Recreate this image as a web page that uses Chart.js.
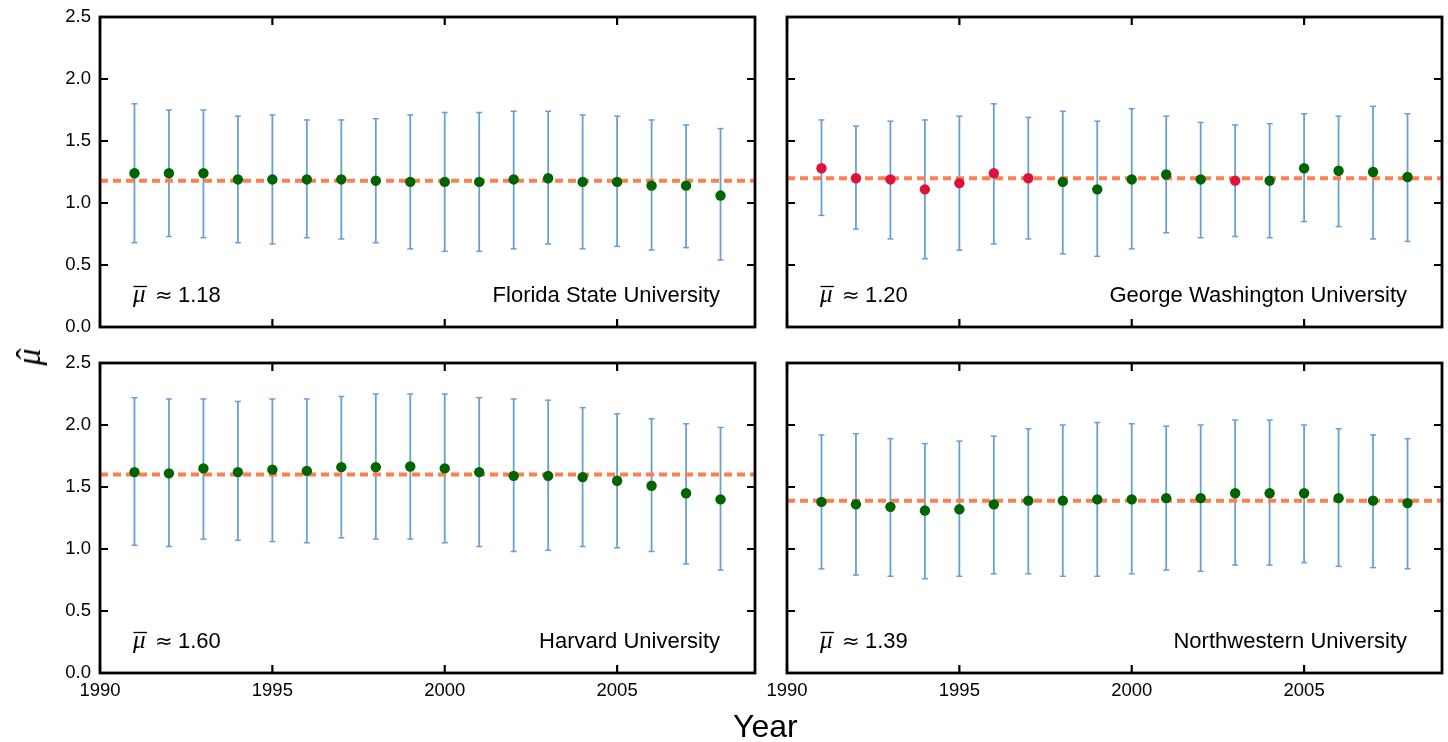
<!DOCTYPE html>
<html>
<head>
<meta charset="utf-8">
<script src="https://cdn.jsdelivr.net/npm/chart.js@4.4.1/dist/chart.umd.min.js"></script>
<style>
  html, body { margin:0; padding:0; background:#fff; width:1448px; height:742px; overflow:hidden; }
  canvas { position:absolute; left:0; top:0; }
  #xlabel { position:absolute; left:733px; top:710px; font-family:"Liberation Sans", Arial, sans-serif; font-size:32px; line-height:32px; color:#000; white-space:nowrap; }
  #ylabel { position:absolute; left:29px; top:357px; transform:translate(-50%,-50%) rotate(-90deg); font-family:"Liberation Serif", serif; font-style:italic; font-size:34px; line-height:34px; color:#000; white-space:nowrap; }
  #ylabel .mu { position:relative; display:inline-block; }
  #ylabel .hat { position:absolute; left:3px; top:0; width:100%; text-align:center; font-style:normal; }
</style>
</head>
<body>
<canvas id="c0" width="1448" height="742"></canvas>
<canvas id="c1" width="1448" height="742"></canvas>
<canvas id="c2" width="1448" height="742"></canvas>
<canvas id="c3" width="1448" height="742"></canvas>
<div id="xlabel">Year</div>
<div id="ylabel"><span class="mu">μ<span class="hat">ˆ</span></span></div>
<script>
// ---------------- data ----------------
const years = [1991,1992,1993,1994,1995,1996,1997,1998,1999,2000,2001,2002,2003,2004,2005,2006,2007,2008];
const xTicks = [1990, 1995, 2000, 2005];
const yTicks = [0.0, 0.5, 1.0, 1.5, 2.0, 2.5];
const xMin = 1990, xMax = 2009;
const yMin = 0, yMax = 2.5;

const universities = ['Florida State University', 'George Washington University', 'Harvard University', 'Northwestern University'];
const meanValues = [1.18, 1.20, 1.60, 1.39];

const fsuMu   = [1.24,1.24,1.24,1.19,1.19,1.19,1.19,1.18,1.17,1.17,1.17,1.19,1.20,1.17,1.17,1.14,1.14,1.06];
const fsuLow  = [0.68,0.73,0.72,0.68,0.67,0.72,0.71,0.68,0.63,0.61,0.61,0.63,0.67,0.63,0.65,0.62,0.64,0.54];
const fsuHigh = [1.80,1.75,1.75,1.70,1.71,1.67,1.67,1.68,1.71,1.73,1.73,1.74,1.74,1.71,1.70,1.67,1.63,1.60];
const fsuFlag = [0,0,0,0,0,0,0,0,0,0,0,0,0,0,0,0,0,0];

const gwuMu   = [1.28,1.20,1.19,1.11,1.16,1.24,1.20,1.17,1.11,1.19,1.23,1.19,1.18,1.18,1.28,1.26,1.25,1.21];
const gwuLow  = [0.90,0.79,0.71,0.55,0.62,0.67,0.71,0.59,0.57,0.63,0.76,0.72,0.73,0.72,0.85,0.81,0.71,0.69];
const gwuHigh = [1.67,1.62,1.66,1.67,1.70,1.80,1.69,1.74,1.66,1.76,1.70,1.65,1.63,1.64,1.72,1.70,1.78,1.72];
const gwuFlag = [1,1,1,1,1,1,1,0,0,0,0,0,1,0,0,0,0,0];

const harMu   = [1.62,1.61,1.65,1.62,1.64,1.63,1.66,1.66,1.665,1.65,1.62,1.59,1.59,1.58,1.55,1.51,1.45,1.40];
const harLow  = [1.03,1.02,1.08,1.07,1.06,1.05,1.09,1.08,1.08,1.05,1.02,0.98,0.99,1.02,1.01,0.98,0.88,0.83];
const harHigh = [2.22,2.21,2.21,2.19,2.21,2.21,2.23,2.25,2.25,2.25,2.22,2.21,2.20,2.14,2.09,2.05,2.01,1.98];
const harFlag = [0,0,0,0,0,0,0,0,0,0,0,0,0,0,0,0,0,0];

const nwuMu   = [1.38,1.36,1.34,1.31,1.32,1.36,1.39,1.39,1.40,1.40,1.41,1.41,1.45,1.45,1.45,1.41,1.39,1.37];
const nwuLow  = [0.84,0.79,0.78,0.76,0.78,0.80,0.80,0.78,0.78,0.80,0.83,0.82,0.87,0.87,0.89,0.86,0.85,0.84];
const nwuHigh = [1.92,1.93,1.89,1.85,1.87,1.91,1.97,2.00,2.02,2.01,1.99,2.00,2.04,2.04,2.00,1.97,1.92,1.89];
const nwuFlag = [0,0,0,0,0,0,0,0,0,0,0,0,0,0,0,0,0,0];

// ---------------- styling / layout ----------------
const SANS = '"Liberation Sans", Arial, Helvetica, sans-serif';
const GREEN = '#006400';
const RED = '#dc143c';
const ERR = '#6a9fd2';
const MEANC = '#ff7f50';

Chart.defaults.font.family = SANS;
Chart.defaults.color = '#000';

const panels = [
  { canvas:'c0', mu:fsuMu, low:fsuLow, high:fsuHigh, flag:fsuFlag, idx:0, area:{l:100,t:17,r:755,b:327},  showX:false, showY:true  },
  { canvas:'c1', mu:gwuMu, low:gwuLow, high:gwuHigh, flag:gwuFlag, idx:1, area:{l:787,t:17,r:1442,b:327}, showX:false, showY:false },
  { canvas:'c2', mu:harMu, low:harLow, high:harHigh, flag:harFlag, idx:2, area:{l:100,t:363,r:755,b:673}, showX:true,  showY:true  },
  { canvas:'c3', mu:nwuMu, low:nwuLow, high:nwuHigh, flag:nwuFlag, idx:3, area:{l:787,t:363,r:1442,b:673}, showX:true,  showY:false }
];

const frameTicksPlugin = {
  id: 'frameTicks',
  afterDraw(chart) {
    const { ctx, chartArea: a, scales } = chart;
    const xs = scales.x, ys = scales.y;
    ctx.save();
    ctx.strokeStyle = '#000';
    ctx.lineWidth = 2.2;
    const L = 8;
    ctx.beginPath();
    xTicks.forEach(v => {
      const px = xs.getPixelForValue(v);
      ctx.moveTo(px, a.bottom); ctx.lineTo(px, a.bottom - L);
      ctx.moveTo(px, a.top);    ctx.lineTo(px, a.top + L);
    });
    yTicks.forEach(v => {
      const py = ys.getPixelForValue(v);
      ctx.moveTo(a.left, py);  ctx.lineTo(a.left + L, py);
      ctx.moveTo(a.right, py); ctx.lineTo(a.right - L, py);
    });
    ctx.stroke();
    ctx.lineWidth = 2.8;
    ctx.strokeRect(a.left, a.top, a.right - a.left, a.bottom - a.top);
    ctx.restore();
  }
};

const panelTextPlugin = {
  id: 'panelText',
  afterDraw(chart, args, opts) {
    const { ctx, chartArea: a } = chart;
    const base = a.bottom - 25;
    ctx.save();
    ctx.fillStyle = '#000';
    ctx.textBaseline = 'alphabetic';
    ctx.textAlign = 'left';
    const mx = a.left + 33;
    ctx.font = 'italic 25px "Liberation Serif", serif';
    ctx.fillText('μ', mx, base);
    const mw = ctx.measureText('μ').width;
    ctx.strokeStyle = '#000';
    ctx.lineWidth = 1.3;
    ctx.beginPath();
    ctx.moveTo(mx + 0.5, base - 15.5);
    ctx.lineTo(mx + mw + 1.5, base - 15.5);
    ctx.stroke();
    ctx.font = '21px "DejaVu Sans", sans-serif';
    ctx.fillText('≈', a.left + 55, base);
    ctx.font = '22px ' + SANS;
    ctx.fillText(opts.mean.toFixed(2), a.left + 78, base);
    ctx.textAlign = 'right';
    ctx.fillText(opts.name, a.right - 35, base);
    ctx.restore();
  }
};

panels.forEach(p => {
  const yW = p.showY ? 100 : 0;
  const xH = p.showX ? 40 : 0;
  const errData = [];
  years.forEach((yr, i) => {
    errData.push({ x: yr, y: p.low[i] });
    errData.push({ x: yr, y: p.high[i] });
    errData.push({ x: yr, y: null });
  });
  const dotData = years.map((yr, i) => ({ x: yr, y: p.mu[i] }));
  const dotColors = p.flag.map(f => f ? RED : GREEN);
  const mean = meanValues[p.idx];

  new Chart(document.getElementById(p.canvas), {
    type: 'scatter',
    data: {
      datasets: [
        {
          label: 'estimate',
          data: dotData,
          order: 0,
          showLine: false,
          pointRadius: 5.2,
          pointBorderWidth: 0,
          pointBackgroundColor: dotColors,
          pointBorderColor: dotColors
        },
        {
          label: 'mean',
          data: [{ x: xMin, y: mean }, { x: xMax, y: mean }],
          order: 1,
          showLine: true,
          borderColor: MEANC,
          borderWidth: 4,
          borderDash: [8, 5],
          pointRadius: 0
        },
        {
          label: 'interval',
          data: errData,
          order: 2,
          showLine: true,
          spanGaps: false,
          borderColor: ERR,
          borderWidth: 1.8,
          pointStyle: 'line',
          pointRadius: 3,
          pointBorderWidth: 1.5,
          pointBorderColor: ERR
        }
      ]
    },
    options: {
      responsive: false,
      animation: false,
      events: [],
      devicePixelRatio: 1,
      layout: {
        padding: {
          left: p.area.l - yW,
          top: p.area.t,
          right: 1448 - p.area.r,
          bottom: 742 - p.area.b - xH
        }
      },
      plugins: {
        legend: { display: false },
        tooltip: { enabled: false },
        title: { display: false },
        panelText: { name: universities[p.idx], mean: mean }
      },
      scales: {
        x: {
          type: 'linear',
          min: xMin, max: xMax,
          afterBuildTicks: s => { s.ticks = xTicks.map(v => ({ value: v })); },
          afterFit: s => { s.height = xH; s.paddingLeft = 0; s.paddingRight = 0; s.paddingTop = 0; s.paddingBottom = 0; },
          grid: { display: false, drawTicks: false },
          border: { display: false },
          ticks: { display: p.showX, padding: 7, color: '#000', font: { size: 18.5 }, maxRotation: 0, callback: v => String(v) }
        },
        y: {
          type: 'linear',
          min: yMin, max: yMax,
          afterBuildTicks: s => { s.ticks = yTicks.map(v => ({ value: v })); },
          afterFit: s => { s.width = yW; s.paddingLeft = 0; s.paddingRight = 0; s.paddingTop = 0; s.paddingBottom = 0; },
          grid: { display: false, drawTicks: false },
          border: { display: false },
          ticks: { display: p.showY, padding: 9, color: '#000', font: { size: 18.5 }, callback: v => Number(v).toFixed(1) }
        }
      }
    },
    plugins: [frameTicksPlugin, panelTextPlugin]
  });
});
</script>
</body>
</html>
